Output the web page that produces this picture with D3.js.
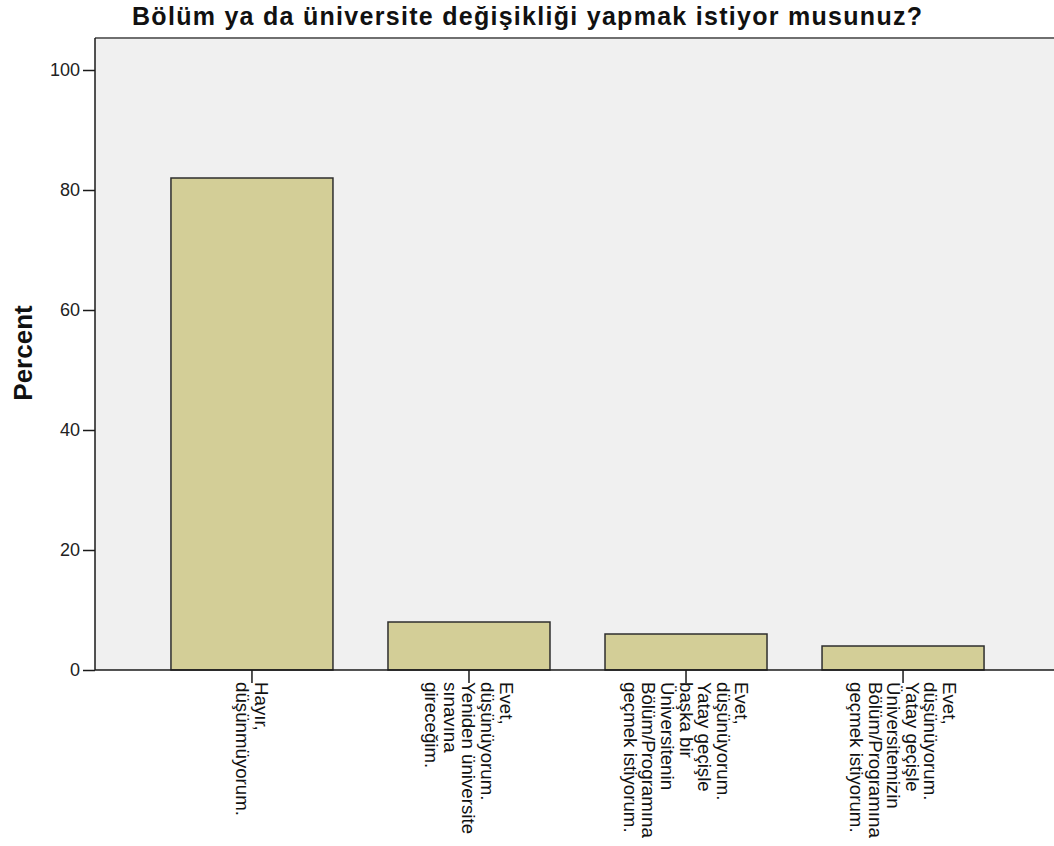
<!DOCTYPE html>
<html>
<head>
<meta charset="utf-8">
<script src="https://cdn.jsdelivr.net/npm/d3@7"></script>
<style>
  body { margin: 0; background: #fff; }
  svg { display: block; font-family: "Liberation Sans", Arial, sans-serif; }
</style>
</head>
<body>
<div id="chart"></div>
<script>
// Data
var title = 'Bölüm ya da üniversite değişikliği yapmak istiyor musunuz?'
var yLabel = 'Percent'
var categories = [
  ['Hayır,', 'düşünmüyorum.'],
  ['Evet,', 'düşünüyorum.', 'Yeniden üniversite', 'sınavına', 'gireceğim.'],
  ['Evet,', 'düşünüyorum.', 'Yatay geçişle', 'başka bir', 'Üniversitenin', 'Bölüm/Programına', 'geçmek istiyorum.'],
  ['Evet,', 'düşünüyorum.', 'Yatay geçişle', 'Üniversitemizin', 'Bölüm/Programına', 'geçmek istiyorum.']
]
var percents = [82, 8, 6, 4]
var yTicks = [0, 20, 40, 60, 80, 100]

var width = 1054, height = 846
// plot frame (the right side runs past the window, like the original)
var pLeft = 95, pTop = 38, pBottom = 670, pRight = 1060

var svg = d3.select('#chart').append('svg')
  .attr('width', width)
  .attr('height', height)

var keys = categories.map(function(d, i){ return i })

var x = d3.scaleBand()
  .domain(keys)
  .range([pLeft, pRight])
  .paddingInner(0.2535)
  .paddingOuter(0.35)

// top of the frame sits a bit above 100
var y = d3.scaleLinear()
  .domain([0, (pBottom - pTop) / 6])
  .range([pBottom, pTop])

// plot background
svg.append('rect')
  .attr('x', pLeft).attr('y', pTop)
  .attr('width', pRight - pLeft).attr('height', pBottom - pTop)
  .attr('fill', '#f0f0f0')

svg.append('line')
  .attr('x1', pLeft).attr('x2', pRight)
  .attr('y1', pTop).attr('y2', pTop)
  .attr('stroke', '#6f6f6f').attr('stroke-width', 2)

// bars
svg.selectAll('rect.bar')
  .data(percents)
  .enter().append('rect')
  .attr('class', 'bar')
  .attr('x', function(d, i){ return x(i) })
  .attr('y', function(d){ return y(d) })
  .attr('width', x.bandwidth())
  .attr('height', function(d){ return y(0) - y(d) })
  .attr('fill', '#d3ce97')
  .attr('stroke', '#2e2e2e')
  .attr('stroke-width', 1.5)

// y axis
var yAxis = d3.axisLeft(y).tickValues(yTicks).tickSize(12).tickPadding(3)
var yg = svg.append('g')
  .attr('transform', 'translate(' + pLeft + ',0)')
  .call(yAxis)
yg.select('.domain').remove()
yg.append('line')
  .attr('y1', pTop).attr('y2', pBottom)
  .attr('stroke', '#1a1a1a').attr('stroke-width', 1.5)
yg.selectAll('.tick line').attr('stroke', '#1a1a1a').attr('stroke-width', 1.5)
yg.selectAll('.tick text')
  .attr('font-size', 18)
  .attr('font-family', '"Liberation Sans", Arial, sans-serif')
  .attr('fill', '#222')

// x axis, labels drawn by hand below
var xAxis = d3.axisBottom(x).tickSize(13).tickFormat('')
var xg = svg.append('g')
  .attr('transform', 'translate(0,' + pBottom + ')')
  .call(xAxis)
xg.select('.domain').remove()
xg.append('line')
  .attr('x1', pLeft).attr('x2', pRight)
  .attr('stroke', '#1a1a1a').attr('stroke-width', 1.5)
xg.selectAll('.tick line').attr('stroke', '#1a1a1a').attr('stroke-width', 1.5)

// rotated multi-line category labels, block centred on the tick
var lineH = 18.6
var labelSel = svg.selectAll('g.xlabel')
  .data(categories)
  .enter().append('g')
  .attr('class', 'xlabel')
  .attr('transform', function(d, i){
    return 'translate(' + (x(i) + x.bandwidth() / 2) + ',' + (pBottom + 12) + ') rotate(90)'
  })

labelSel.each(function(lines){
  var n = lines.length
  d3.select(this).selectAll('text')
    .data(lines)
    .enter().append('text')
    .attr('x', 0)
    .attr('y', function(d, j){ return (j - (n - 1) / 2) * lineH + 6.5 })
    .attr('font-size', 18.7)
    .attr('fill', '#111')
    .text(function(d){ return d })
})

// title
svg.append('text')
  .attr('x', width / 2)
  .attr('y', 25)
  .attr('text-anchor', 'middle')
  .attr('font-size', 25)
  .attr('font-weight', 'bold')
  .attr('textLength', 790)
  .attr('lengthAdjust', 'spacing')
  .attr('fill', '#111')
  .text(title)

// y axis title
svg.append('text')
  .attr('transform', 'translate(32,' + 353 + ') rotate(-90)')
  .attr('text-anchor', 'middle')
  .attr('font-size', 26)
  .attr('font-weight', 'bold')
  .attr('fill', '#111')
  .text(yLabel)
</script>
</body>
</html>
